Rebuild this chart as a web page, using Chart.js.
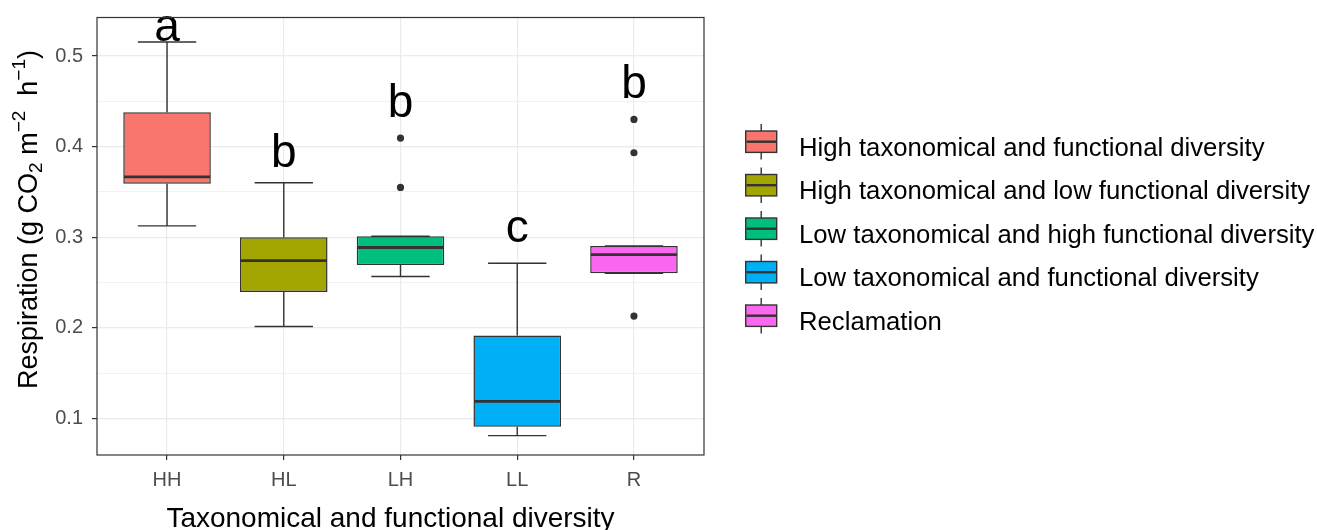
<!DOCTYPE html>
<html><head><meta charset="utf-8">
<script src="https://cdn.jsdelivr.net/npm/chart.js@4.4.1/dist/chart.umd.min.js"></script>
<style>html,body{margin:0;padding:0;background:#fff}#wrap{width:1317px;height:530px}</style>
</head><body><div id="wrap"><canvas id="c" width="1317" height="530"></canvas></div>
<script>
// ---- data ----
const categories = ['HH', 'HL', 'LH', 'LL', 'R'];
const groupNames = [
  'High taxonomical and functional diversity',
  'High taxonomical and low functional diversity',
  'Low taxonomical and high functional diversity',
  'Low taxonomical and functional diversity',
  'Reclamation'
];
const boxColors = ['#F8766D', '#A3A500', '#00BF7D', '#00B0F6', '#FB67F0'];
const whiskerLow  = [0.3125, 0.2014, 0.2566, 0.0809, 0.2602];
const q1          = [0.3589, 0.2395, 0.2692, 0.0908, 0.2602];
const median      = [0.3666, 0.2742, 0.2886, 0.1188, 0.2808];
const q3          = [0.4378, 0.3000, 0.3010, 0.1915, 0.2903];
const whiskerHigh = [0.5155, 0.3600, 0.3010, 0.2712, 0.2903];
const outlierGroup  = ['LH', 'LH', 'R', 'R', 'R'];
const outlierValues = [0.4094, 0.3549, 0.4300, 0.3932, 0.2129];
const letters    = ['a', 'b', 'b', 'c', 'b'];
const letterBase = [0.5165, 0.3773, 0.4326, 0.2945, 0.4536];
const yTicks = [0.1, 0.15, 0.2, 0.25, 0.3, 0.35, 0.4, 0.45, 0.5];
const yMajorLabels = ['0.1', '0.2', '0.3', '0.4', '0.5'];
const xTitle = 'Taxonomical and functional diversity';
const yTitleParts = [
  {t: 'Respiration (g CO'}, {t: '2', sub: true}, {t: ' m'}, {t: '\u22122', sup: true},
  {t: '  h'}, {t: '\u22121', sup: true}, {t: ')'}
];

const FONT = '"Liberation Sans", Arial, sans-serif';
const isMajor = v => Math.abs(Math.round(v * 10) - v * 10) < 1e-6;

const extras = {
  id: 'extras',
  beforeDatasetsDraw(chart) {
    const {ctx, scales: {x, y}} = chart;
    ctx.save();
    ctx.strokeStyle = '#333333';
    ctx.lineWidth = 1.4;
    categories.forEach((c, i) => {
      const cx = x.getPixelForValue(i + 1);
      const cl = x.getPixelForValue(i + 1 - 0.25), cr = x.getPixelForValue(i + 1 + 0.25);
      const yl = y.getPixelForValue(whiskerLow[i]), ya = y.getPixelForValue(q1[i]);
      const yb = y.getPixelForValue(q3[i]), yh = y.getPixelForValue(whiskerHigh[i]);
      ctx.beginPath();
      ctx.moveTo(cx, ya); ctx.lineTo(cx, yl);
      ctx.moveTo(cl, yl); ctx.lineTo(cr, yl);
      ctx.moveTo(cx, yb); ctx.lineTo(cx, yh);
      ctx.moveTo(cl, yh); ctx.lineTo(cr, yh);
      ctx.stroke();
    });
    ctx.restore();
  },
  afterDatasetsDraw(chart) {
    const {ctx, scales: {x, y}} = chart;
    ctx.save();
    ctx.strokeStyle = '#333333';
    ctx.lineWidth = 2.8;
    categories.forEach((c, i) => {
      const l = x.getPixelForValue(i + 1 - 0.375), r = x.getPixelForValue(i + 1 + 0.375);
      const ym = y.getPixelForValue(median[i]);
      ctx.beginPath(); ctx.moveTo(l + 0.7, ym); ctx.lineTo(r - 0.7, ym); ctx.stroke();
    });
    ctx.fillStyle = '#000';
    ctx.font = '46px ' + FONT;
    ctx.textAlign = 'center';
    ctx.textBaseline = 'alphabetic';
    categories.forEach((c, i) => {
      ctx.fillText(letters[i], x.getPixelForValue(i + 1), y.getPixelForValue(letterBase[i]));
    });
    ctx.restore();
  },
  afterDraw(chart) {
    const {ctx, chartArea: a} = chart;
    ctx.save();
    // panel border
    ctx.strokeStyle = '#333333';
    ctx.lineWidth = 1.2;
    ctx.strokeRect(a.left, a.top, a.right - a.left, a.bottom - a.top);
    // x title
    ctx.fillStyle = '#000';
    ctx.font = '28px ' + FONT;
    ctx.textAlign = 'center';
    ctx.textBaseline = 'alphabetic';
    ctx.fillText(xTitle, (a.left + a.right) / 2 - 10, 526.5);
    // y title (rich text, rotated)
    ctx.save();
    ctx.translate(37, 389);
    ctx.rotate(-Math.PI / 2);
    ctx.textAlign = 'left';
    let px = 0;
    yTitleParts.forEach(p => {
      let size = 27, dy = 0;
      if (p.sub) { size = 19; dy = 5; }
      if (p.sup) { size = 19; dy = -12; }
      ctx.font = size + 'px ' + FONT;
      ctx.fillText(p.t, px, dy);
      px += ctx.measureText(p.t).width;
    });
    ctx.restore();
    // legend
    groupNames.forEach((name, i) => {
      const cy = 141.7 + 43.5 * i;
      const kx = 761.2;
      ctx.strokeStyle = '#333333';
      ctx.lineWidth = 1.4;
      ctx.beginPath(); ctx.moveTo(kx, cy - 17.7); ctx.lineTo(kx, cy + 17.7); ctx.stroke();
      ctx.fillStyle = boxColors[i];
      ctx.fillRect(745.7, cy - 10.7, 31, 21.4);
      ctx.strokeRect(745.7, cy - 10.7, 31, 21.4);
      ctx.lineWidth = 2.4;
      ctx.beginPath(); ctx.moveTo(746.5, cy); ctx.lineTo(776, cy); ctx.stroke();
      ctx.fillStyle = '#000';
      ctx.font = '25.7px ' + FONT;
      ctx.textAlign = 'left';
      ctx.fillText(name, 799, 155.5 + 43.5 * i);
    });
    ctx.restore();
  }
};

new Chart(document.getElementById('c'), {
  data: {
    datasets: [
      {
        type: 'bar',
        data: categories.map((c, i) => ({x: i + 1, y: [q1[i], q3[i]]})),
        backgroundColor: boxColors,
        borderColor: '#333333',
        borderWidth: 1.5,
        borderSkipped: false,
        barPercentage: 0.75,
        categoryPercentage: 1
      },
      {
        type: 'scatter',
        data: outlierValues.map((v, k) => ({x: categories.indexOf(outlierGroup[k]) + 1, y: v})),
        pointRadius: 3.6,
        pointBackgroundColor: '#333333',
        pointBorderWidth: 0
      }
    ]
  },
  options: {
    responsive: false,
    animation: false,
    devicePixelRatio: 1,
    layout: {padding: {top: 17.5, right: 613, left: 0, bottom: 0}},
    plugins: {legend: {display: false}, tooltip: {enabled: false}},
    scales: {
      x: {
        type: 'linear', min: 0.4, max: 5.6, offset: false,
        afterBuildTicks: s => { s.ticks = categories.map((c, i) => ({value: i + 1})); },
        afterFit: s => { s.height = 75; s.paddingLeft = 0; s.paddingRight = 0; },
        ticks: {
          callback: v => categories[Math.round(v) - 1],
          color: '#4d4d4d', font: {family: FONT, size: 20}, padding: 8, maxRotation: 0, autoSkip: false
        },
        grid: {offset: false, color: '#ebebeb', lineWidth: 1.2, tickColor: '#333333', tickLength: 5},
        border: {display: false}
      },
      y: {
        type: 'linear', min: 0.0595, max: 0.5425,
        afterBuildTicks: s => { s.ticks = yTicks.map(v => ({value: v})); },
        afterFit: s => { s.width = 97; s.paddingTop = 0; s.paddingBottom = 0; },
        ticks: {
          callback: v => isMajor(v) ? yMajorLabels[Math.round(v * 10) - 1] : '',
          color: '#4d4d4d', font: {family: FONT, size: 20}, padding: 9, autoSkip: false
        },
        grid: {
          color: '#ebebeb',
          lineWidth: ctx => isMajor(ctx.tick.value) ? 1.2 : 0.7,
          tickColor: ctx => isMajor(ctx.tick.value) ? '#333333' : 'rgba(0,0,0,0)',
          tickLength: 5
        },
        border: {display: false}
      }
    }
  },
  plugins: [extras]
});
</script>
</body></html>
